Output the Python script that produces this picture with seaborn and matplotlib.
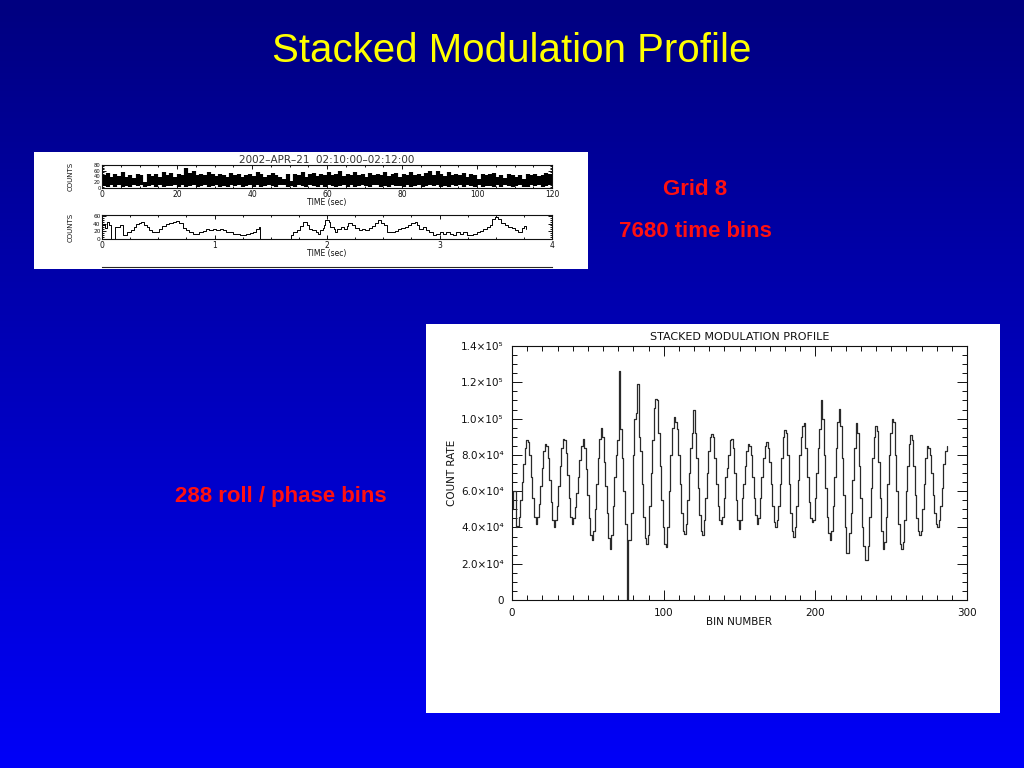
import numpy as np
import matplotlib
matplotlib.use('Agg')
import matplotlib.pyplot as plt
from matplotlib.patches import Rectangle
from matplotlib.colors import LinearSegmentedColormap
from matplotlib.ticker import MultipleLocator, FixedLocator, FixedFormatter
import seaborn as sns
import pandas as pd

sns.set_style('ticks')
plt.rcParams['font.family'] = ['DejaVu Sans']

# ---------------- data ----------------
# Stacked modulation profile: count rate (in units of 1e3) per roll/phase bin (288 bins)
profile_k = [
    50, 60, 60, 40, 41, 46, 55, 65, 75, 84,
    88, 87, 80, 68, 56, 46, 42, 46, 53, 63,
    73, 82, 86, 85, 78, 66, 54, 44, 40, 44,
    52, 63, 74, 84, 89, 88, 81, 69, 56, 46,
    42, 45, 51, 59, 68, 77, 85, 89, 84, 72,
    58, 45, 36, 33, 38, 50, 64, 78, 89, 95,
    90, 76, 63, 48, 34, 28, 36, 52, 68, 80,
    88, 126, 94, 78, 60, 42, 0, 33, 33, 48,
    80, 100, 103, 119, 90, 82, 64, 46, 34, 31,
    36, 52, 70, 88, 106, 111, 110, 92, 74, 55,
    40, 31, 29, 40, 60, 80, 95, 101, 98, 94,
    80, 64, 48, 38, 36.5, 42, 55, 70, 84, 92,
    105, 92, 78, 62, 47, 38, 36, 44, 56, 70,
    82, 90, 91.5, 90, 78, 64, 52, 44, 42, 46,
    56, 68, 73, 80, 88, 89, 84, 70, 55, 44,
    39, 44, 56, 64, 74, 82, 86, 85, 80, 68,
    56, 47, 42, 45, 56, 68, 78, 85, 87, 84,
    76, 64, 52, 43, 40.5, 44, 52, 64, 78, 90,
    93.5, 92, 80, 64, 48, 38, 35, 40, 52, 66,
    80, 90, 96, 97.6, 84, 68, 54, 45, 43, 44,
    56, 70, 84, 94, 110, 100, 80, 62, 46, 37,
    33, 38, 52, 68, 84, 98, 105.5, 96, 78, 58,
    40, 26, 26, 37, 48, 66, 84, 97.6, 92, 74,
    56, 40, 30, 22, 22, 30, 46, 62, 78, 90,
    95.7, 93, 76, 56, 38, 28, 32, 46, 64, 80,
    92, 99.8, 98, 80, 60, 42, 31, 28, 32, 44,
    60, 74, 86, 91, 88, 74, 58, 45, 38, 36,
    38, 50, 64, 78, 85, 84, 80, 70, 58, 48,
    42, 40, 44, 52, 62, 75, 82, 85,
]
profile_ticks = [0, 20000, 40000, 60000, 80000, 100000, 120000, 140000]
profile_ticklabels = ['0', '2.0×10⁴', '4.0×10⁴', '6.0×10⁴', '8.0×10⁴',
                      '1.0×10⁵', '1.2×10⁵', '1.4×10⁵']
bin_ticks = [0, 100, 200, 300]

# Light curve, 2 minutes: per-second max / min counts
lc_high = [
    45, 52, 38, 48, 42, 55, 40, 46, 35, 50,
    44, 20, 48, 42, 50, 38, 55, 46, 52, 40,
    48, 44, 70, 52, 58, 46, 50, 44, 54, 48,
    42, 50, 46, 40, 52, 44, 48, 38, 45, 50,
    42, 55, 48, 40, 46, 52, 44, 38, 30, 48,
    25, 50, 44, 56, 40, 48, 52, 42, 50, 46,
    55, 44, 48, 58, 42, 50, 46, 54, 44, 48,
    40, 52, 46, 50, 44, 56, 42, 48, 52, 40,
    50, 46, 54, 44, 48, 42, 52, 58, 46, 60,
    48, 42, 56, 46, 50, 44, 52, 40, 48, 46,
    30, 50, 44, 48, 52, 40, 46, 35, 50, 44,
    38, 46, 30, 48, 44, 50, 42, 46, 52, 48,
]
lc_low = [
    6, 3, 10, 5, 12, 4, 8, 2, 11, 6,
    9, 4, 7, 12, 5, 10, 3, 8, 6, 11,
    4, 9, 2, 7, 12, 5, 8, 10, 3, 6,
    11, 5, 8, 4, 10, 6, 12, 3, 7, 9,
    5, 10, 4, 8, 12, 6, 3, 9, 11, 5,
    8, 4, 10, 6, 3, 12, 7, 5, 9, 4,
    10, 6, 3, 8, 12, 5, 9, 4, 7, 11,
    6, 3, 9, 12, 5, 8, 4, 10, 6, 7,
    3, 11, 5, 8, 10, 4, 7, 12, 6, 9,
    5, 8, 3, 10, 6, 12, 4, 9, 7, 5,
    10, 4, 8, 6, 3, 11, 5, 9, 7, 4,
    8, 12, 5, 3, 10, 6, 9, 4, 7, 11,
]

# Light curve, first 4 seconds (step start time, counts)
zoom_t = [0.000, 0.015, 0.030, 0.045, 0.063, 0.081, 0.113, 0.164, 0.188, 0.224,
          0.254, 0.284, 0.299, 0.328, 0.349, 0.373, 0.397, 0.418, 0.448, 0.478,
          0.507, 0.537, 0.567, 0.597, 0.627, 0.657, 0.687, 0.716, 0.746, 0.776,
          0.806, 0.866, 0.896, 0.925, 0.955, 0.985, 1.015, 1.045, 1.075, 1.104,
          1.134, 1.164, 1.224, 1.284, 1.313, 1.343, 1.373, 1.394, 1.406, 1.681,
          1.701, 1.731, 1.761, 1.790, 1.820, 1.840, 1.870, 1.900, 1.920, 1.940,
          1.960, 1.970, 1.985, 2.015, 2.030, 2.060, 2.075, 2.090, 2.120, 2.150,
          2.180, 2.190, 2.220, 2.250, 2.280, 2.310, 2.340, 2.370, 2.400, 2.430,
          2.450, 2.480, 2.510, 2.530, 2.570, 2.600, 2.630, 2.660, 2.690, 2.720,
          2.750, 2.780, 2.800, 2.820, 2.850, 2.880, 2.910, 2.940, 2.970, 3.000,
          3.030, 3.060, 3.090, 3.120, 3.150, 3.180, 3.210, 3.240, 3.270, 3.300,
          3.330, 3.360, 3.390, 3.420, 3.450, 3.470, 3.490, 3.520, 3.550, 3.580,
          3.610, 3.640, 3.670, 3.700, 3.730, 3.750, 3.770]
zoom_c = [35, 40, 28, 45, 35, 0, 32, 36, 11.5, 18.5,
          23, 32, 38, 40.6, 45, 36, 32, 23, 17, 18.5,
          25.6, 33.5, 38, 40.6, 45, 47.6, 40.6, 29, 23, 17,
          14, 18.5, 20, 25.6, 23, 25.6, 23, 27, 23, 18.5,
          17, 14, 11.5, 14, 16, 18.5, 27, 32, 0, 9.7,
          18.5, 23, 34, 45, 36, 27, 23, 18.5, 14, 23,
          29, 36, 49, 45, 32, 27, 18.5, 27, 32, 27,
          34, 40.6, 36, 29, 23, 25.6, 23, 29, 34, 40.6,
          49, 40.6, 36, 17, 18.5, 20, 25.6, 29, 32, 36,
          40.6, 45, 36, 27, 32, 23, 18.5, 11.5, 14, 17,
          14, 17, 14, 11.5, 18.5, 14, 17, 11.5, 9.7, 14,
          18.5, 20, 25.6, 32, 36, 52, 58, 52, 40.6, 36,
          32, 29, 23, 18.5, 29, 34, 27]

# ---------------- figure ----------------
W, H = 1024, 768
fig = plt.figure(figsize=(W / 100, H / 100), dpi=100)


def rect(l, t, r, b):
    return [l / W, 1 - b / H, (r - l) / W, (b - t) / H]


def ftext(x, y, s, **kw):
    return fig.text(x / W, 1 - y / H, s, **kw)


bg = fig.add_axes([0, 0, 1, 1], zorder=-10)
grad = np.linspace(0, 1, 256).reshape(-1, 1)
cmap = LinearSegmentedColormap.from_list('bg', ['#000080', '#0000f8'])
bg.imshow(grad, aspect='auto', cmap=cmap, extent=[0, 1, 0, 1], origin='upper')
bg.set_xlim(0, 1)
bg.set_ylim(0, 1)
bg.set_axis_off()
for (l, t, r, b) in [(34, 152, 588, 269), (426, 324, 1000, 713)]:
    bg.add_patch(Rectangle((l / W, 1 - b / H), (r - l) / W, (b - t) / H,
                           transform=bg.transAxes, facecolor='white', edgecolor='none'))

# slide texts
ftext(512, 62, 'Stacked Modulation Profile', color='#ffff00', fontsize=29,
      family=['Liberation Sans', 'DejaVu Sans'],
      ha='center', va='baseline')
bold_red = dict(color='#ff1010', fontsize=16, fontweight='bold',
                family=['Liberation Sans', 'DejaVu Sans'], ha='center', va='baseline')
ftext(695, 195, 'Grid 8', **bold_red)
ftext(695, 237, '7680 time bins', **bold_red)
ftext(281, 502, '288 roll / phase bins', **bold_red)


def idl_style(ax, fs):
    for s in ax.spines.values():
        s.set_linewidth(0.8)
        s.set_color('#111111')
    ax.tick_params(which='both', direction='in', top=True, right=True,
                   colors='#111111', labelsize=fs, width=0.7)
    ax.set_facecolor('none')


# ---- main stacked modulation profile ----
ax = fig.add_axes(rect(512, 346, 967, 600))
prof = pd.DataFrame({'bin': np.arange(len(profile_k)),
                     'rate': np.array(profile_k) * 1000.0})
sns.lineplot(data=prof, x='bin', y='rate', drawstyle='steps-mid',
             color='#2a2a2a', lw=0.9, ax=ax, estimator=None)
ax.set_xlim(0, 300)
ax.set_ylim(0, 140000)
idl_style(ax, 7.5)
ax.xaxis.set_major_locator(FixedLocator(bin_ticks))
ax.xaxis.set_minor_locator(MultipleLocator(10))
ax.yaxis.set_major_locator(FixedLocator(profile_ticks))
ax.yaxis.set_major_formatter(FixedFormatter(profile_ticklabels))
ax.yaxis.set_minor_locator(MultipleLocator(5000))
ax.tick_params(which='major', length=7, pad=6)
ax.tick_params(which='minor', length=3.5)
ax.set_xlabel('BIN NUMBER', fontsize=7.5, color='#111111')
ax.set_ylabel('COUNT RATE', fontsize=7.5, color='#111111')
ax.xaxis.set_label_coords(0.5, -0.068)
ax.yaxis.set_label_coords(-0.12, 0.5)
ax.set_title('STACKED MODULATION PROFILE', fontsize=8, color='#111111', pad=4.5)

# ---- top-left light curves ----
ax1 = fig.add_axes(rect(102, 165, 552, 188))
ax1.vlines(np.arange(len(lc_high)) + 0.5, lc_low, lc_high, color='black', lw=3.0)
ax1.set_xlim(0, 120)
ax1.set_ylim(0, 80)
idl_style(ax1, 5.5)
ax1.tick_params(axis='y', labelsize=3.8, pad=1)
ax1.xaxis.set_major_locator(MultipleLocator(20))
ax1.xaxis.set_minor_locator(MultipleLocator(5))
ax1.yaxis.set_major_locator(MultipleLocator(20))
ax1.yaxis.set_minor_locator(MultipleLocator(5))
ax1.tick_params(which='major', length=3)
ax1.tick_params(axis='x', which='major', pad=1.5)
ax1.tick_params(which='minor', length=1.5)
ax1.set_xlabel('TIME (sec)', fontsize=5.5, labelpad=-1, color='#111111')
ax1.set_ylabel('COUNTS', fontsize=5, color='#111111')
ax1.yaxis.set_label_coords(-0.062, 0.5)
ax1.set_title('2002–APR–21  02:10:00–02:12:00', fontsize=7.5, color='#333333', pad=1)

ax2 = fig.add_axes(rect(102, 215, 552, 239))
lc2 = pd.DataFrame({'t': zoom_t, 'c': zoom_c})
sns.lineplot(data=lc2, x='t', y='c', drawstyle='steps-post', color='black',
             lw=0.7, ax=ax2, estimator=None)
ax2.set_xlim(0, 4)
ax2.set_ylim(0, 62)
idl_style(ax2, 5.5)
ax2.tick_params(axis='y', labelsize=4.2, pad=1)
ax2.xaxis.set_major_locator(MultipleLocator(1))
ax2.xaxis.set_minor_locator(MultipleLocator(0.25))
ax2.yaxis.set_major_locator(MultipleLocator(20))
ax2.yaxis.set_minor_locator(MultipleLocator(5))
ax2.tick_params(which='major', length=3)
ax2.tick_params(axis='x', which='major', pad=1.5)
ax2.tick_params(which='minor', length=1.5)
ax2.set_xlabel('TIME (sec)', fontsize=5.5, labelpad=-1, color='#111111')
ax2.set_ylabel('COUNTS', fontsize=5, color='#111111')
ax2.yaxis.set_label_coords(-0.062, 0.5)

# cut-off third panel (only its top edge is visible)
ax3 = fig.add_axes(rect(102, 267, 552, 269))
ax3.set_xlim(0, 1)
ax3.set_ylim(0, 1)
for k in ['left', 'right', 'bottom']:
    ax3.spines[k].set_visible(False)
ax3.spines['top'].set_linewidth(0.8)
ax3.set_xticks([])
ax3.set_yticks([])
ax3.set_facecolor('none')

fig.savefig('out.png', dpi=100)
